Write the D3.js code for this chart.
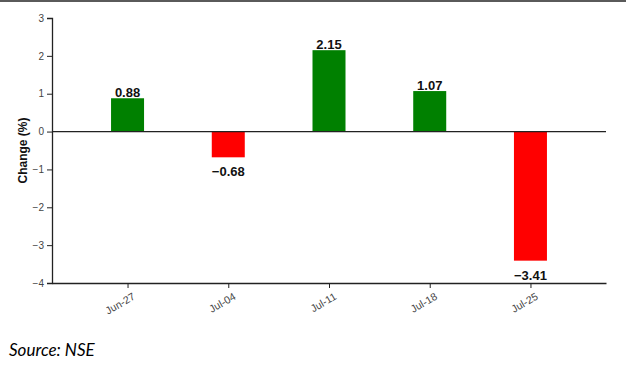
<!DOCTYPE html>
<html>
<head>
<meta charset="utf-8">
<script src="https://cdn.jsdelivr.net/npm/d3@7"></script>
<style>
  body { margin: 0; background: #fff; }
  svg { display: block; }
</style>
</head>
<body>
<div id="wrapper"></div>
<script>
const weeks = ["Jun-27", "Jul-04", "Jul-11", "Jul-18", "Jul-25"];
const changes = [0.88, -0.68, 2.15, 1.07, -3.41];
const yTicks = [3, 2, 1, 0, -1, -2, -3, -4];

function drawBars() {
  const dimensions = {
    width: 626,
    height: 367,
    margin: { top: 18, right: 20, bottom: 84, left: 52 },
  };
  dimensions.boundedWidth = dimensions.width - dimensions.margin.left - dimensions.margin.right;
  dimensions.boundedHeight = dimensions.height - dimensions.margin.top - dimensions.margin.bottom;

  const wrapper = d3.select('#wrapper')
    .append('svg')
    .attr('width', dimensions.width)
    .attr('height', dimensions.height);

  // top border strip of the screenshot
  wrapper.append('rect')
    .attr('x', 0).attr('y', 0)
    .attr('width', dimensions.width).attr('height', 2)
    .attr('fill', '#5a5a5a');

  const bounds = wrapper.append('g')
    .attr('transform', `translate(${dimensions.margin.left},${dimensions.margin.top})`);

  const xScale = d3.scalePoint()
    .domain(weeks)
    .range([0, dimensions.boundedWidth])
    .padding(0.75);

  const yScale = d3.scaleLinear()
    .domain([-4, 3])
    .range([dimensions.boundedHeight, 0]);

  const barWidth = 33;
  const data = weeks.map((w, i) => ({ week: w, value: changes[i] }));

  bounds.selectAll('rect.bar')
    .data(data)
    .enter().append('rect')
    .attr('class', 'bar')
    .attr('x', d => xScale(d.week) - barWidth / 2)
    .attr('y', d => yScale(Math.max(0, d.value)))
    .attr('width', barWidth)
    .attr('height', d => Math.abs(yScale(d.value) - yScale(0)))
    .attr('fill', d => d.value >= 0 ? '#008000' : '#ff0000');

  // value labels
  bounds.selectAll('text.val')
    .data(data)
    .enter().append('text')
    .attr('class', 'val')
    .attr('x', d => xScale(d.week))
    .attr('y', d => d.value >= 0 ? yScale(d.value) - 1 : yScale(d.value) + 19)
    .attr('text-anchor', 'middle')
    .style('font-family', '"Liberation Sans", Arial, sans-serif')
    .style('font-size', '13px')
    .style('font-weight', 'bold')
    .attr('fill', '#111')
    .text(d => d3.format('.2f')(d.value).replace('-', '\u2212'));

  // zero line
  bounds.append('line')
    .attr('x1', 0).attr('x2', dimensions.boundedWidth)
    .attr('y1', yScale(0)).attr('y2', yScale(0))
    .attr('stroke', '#222').attr('stroke-width', 1.3);

  // axes
  const yAxis = bounds.append('g')
    .call(d3.axisLeft(yScale).tickValues(yTicks).tickSize(5).tickPadding(3)
      .tickFormat(d => String(d).replace('-', '\u2212')));
  yAxis.select('.domain').attr('stroke', '#222').attr('stroke-width', 1.3);
  yAxis.selectAll('line').attr('stroke', '#222');
  yAxis.selectAll('text')
    .style('font-family', '"Liberation Sans", Arial, sans-serif')
    .style('font-size', '10px')
    .attr('fill', '#444');

  const xAxis = bounds.append('g')
    .attr('transform', `translate(0,${dimensions.boundedHeight})`)
    .call(d3.axisBottom(xScale).tickSize(5).tickSizeOuter(0));
  xAxis.select('.domain').attr('stroke', '#222').attr('stroke-width', 1.3);
  xAxis.selectAll('line').attr('stroke', '#222');
  xAxis.selectAll('text')
    .style('font-family', '"Liberation Sans", Arial, sans-serif')
    .style('font-size', '10.5px')
    .attr('fill', '#444')
    .attr('text-anchor', 'end')
    .attr('dx', '-0.1em')
    .attr('dy', '0.9em')
    .attr('transform', 'rotate(-30)');

  // y label
  bounds.append('text')
    .attr('transform', `translate(-25,${dimensions.boundedHeight / 2}) rotate(-90)`)
    .attr('text-anchor', 'middle')
    .style('font-family', '"Liberation Sans", Arial, sans-serif')
    .style('font-size', '12px')
    .style('font-weight', 'bold')
    .attr('fill', '#111')
    .text('Change (%)');

  // source note
  wrapper.append('text')
    .attr('x', 9)
    .attr('y', 356)
    .style('font-family', 'Lato, "Open Sans", sans-serif')
    .style('font-size', '17px')
    .style('font-style', 'italic')
    .attr('fill', '#000')
    .text('Source: NSE');
}
drawBars();
</script>
</body>
</html>
